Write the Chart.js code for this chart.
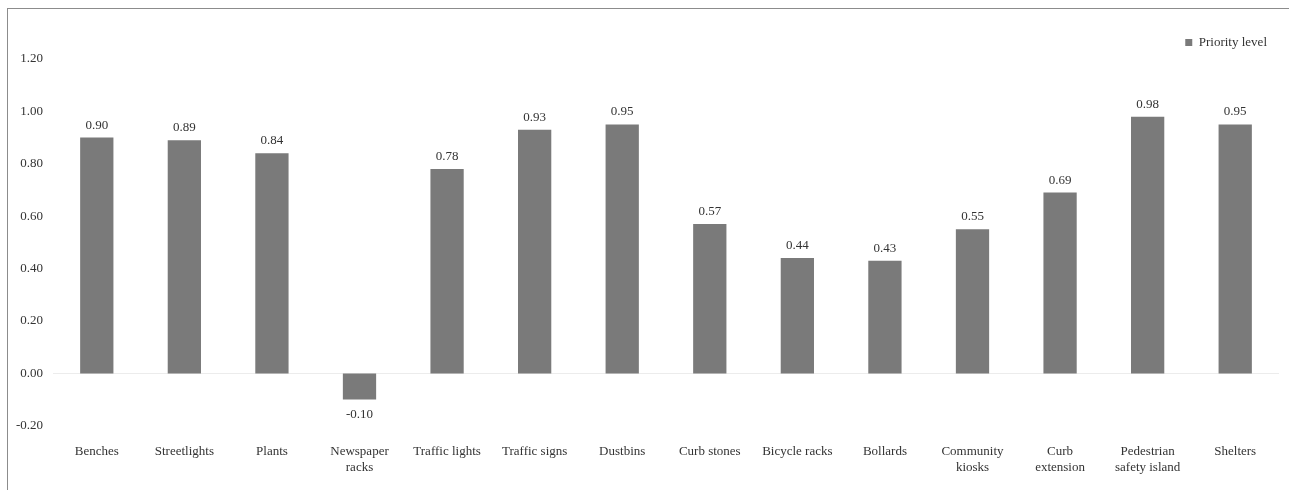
<!DOCTYPE html>
<html>
<head>
<meta charset="utf-8">
<script src="https://cdn.jsdelivr.net/npm/chart.js@4"></script>
<style>
  body { margin: 0; background: #fff; }
  #frame {
    position: absolute; left: 7px; top: 8px;
    width: 1282px; height: 482px;
    border-top: 1px solid #8c8c8c; border-left: 1px solid #8c8c8c;
  }
</style>
</head>
<body>
<div id="frame"><canvas id="priorityChart" width="1281" height="481"></canvas></div>
<script>
'use strict';

const categories = ['Benches', 'Streetlights', 'Plants', ['Newspaper', 'racks'], 'Traffic lights',
  'Traffic signs', 'Dustbins', 'Curb stones', 'Bicycle racks', 'Bollards',
  ['Community', 'kiosks'], ['Curb', 'extension'], ['Pedestrian', 'safety island'], 'Shelters'];
const priorityLevel = [0.90, 0.89, 0.84, -0.10, 0.78, 0.93, 0.95, 0.57, 0.44, 0.43, 0.55, 0.69, 0.98, 0.95];
const yTicks = { min: -0.2, max: 1.2, step: 0.2 };

const textFont = { family: "'Liberation Serif', 'Times New Roman', serif", size: 13 };

// draws the value above (or below) each bar
const valueLabels = {
  id: 'valueLabels',
  afterDatasetsDraw(chart) {
    const ctx = chart.ctx;
    const meta = chart.getDatasetMeta(0);
    ctx.save();
    ctx.font = textFont.size + 'px ' + textFont.family;
    ctx.fillStyle = '#333';
    ctx.textAlign = 'center';
    meta.data.forEach(function (bar, i) {
      const v = priorityLevel[i];
      if (v >= 0) {
        ctx.textBaseline = 'bottom';
        ctx.fillText(v.toFixed(2), bar.x, bar.y - 6);
      } else {
        ctx.textBaseline = 'top';
        ctx.fillText(v.toFixed(2), bar.x, bar.y + 8);
      }
    });
    ctx.restore();
  }
};

const chartConfig = {
  type: 'bar',
  data: {
    labels: categories,
    datasets: [{
      label: 'Priority level',
      data: priorityLevel,
      backgroundColor: '#7a7a7a',
      borderWidth: 0,
      barPercentage: 0.38,
      categoryPercentage: 1
    }]
  },
  options: {
    responsive: false,
    animation: false,
    layout: { padding: { top: 15, right: 10, bottom: 5, left: 0 } },
    plugins: {
      legend: {
        position: 'top',
        align: 'end',
        labels: {
          boxWidth: 7, boxHeight: 7, padding: 12,
          color: '#333', font: textFont
        }
      },
      tooltip: { enabled: false }
    },
    scales: {
      x: {
        grid: { display: false },
        border: { display: false },
        ticks: { color: '#333', font: textFont, maxRotation: 0, autoSkip: false, padding: 10 }
      },
      y: {
        min: yTicks.min,
        max: yTicks.max,
        afterFit(scale) { scale.width = 45; },
        grid: {
          drawTicks: false,
          color: function (c) { return c.tick && Math.abs(c.tick.value) < 1e-9 ? '#ececec' : 'rgba(0,0,0,0)'; }
        },
        border: { display: false },
        ticks: {
          stepSize: yTicks.step,
          color: '#333',
          font: textFont,
          padding: 10,
          callback: function (v) {
            const r = Math.round(Number(v) * 100) / 100;
            return (r === 0 ? 0 : r).toFixed(2);
          }
        }
      }
    }
  },
  plugins: [valueLabels]
};

const canvasChart = document.getElementById('priorityChart').getContext('2d');
const myChart = new Chart(canvasChart, chartConfig);
</script>
</body>
</html>
